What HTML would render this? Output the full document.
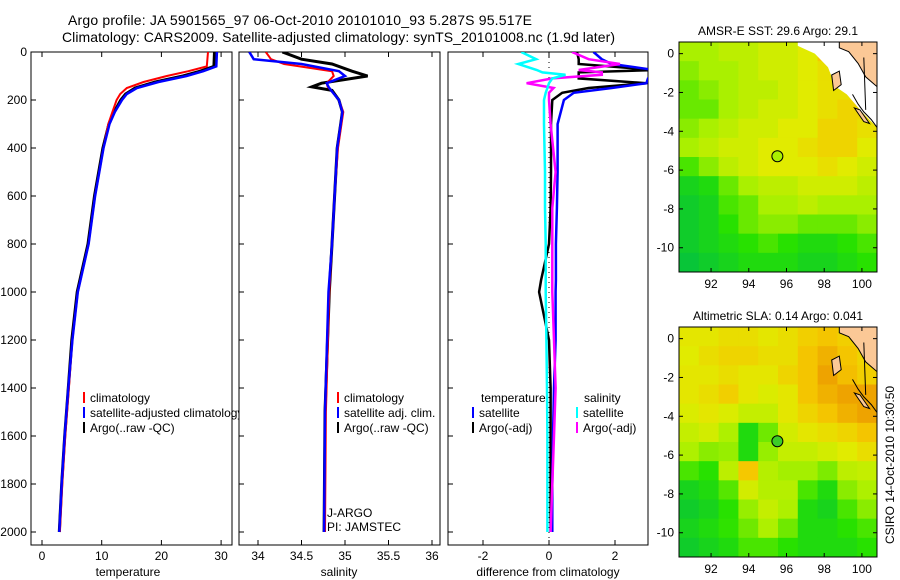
<!DOCTYPE html>
<html><head><meta charset="utf-8"><style>
html,body{margin:0;padding:0;background:#fff;}
svg{display:block;font-family:"Liberation Sans",sans-serif;}
</style></head><body>
<svg id="fig" width="900" height="580" viewBox="0 0 900 580"></svg>
<script>
// ---------- data ----------
const depthT = [0, 60, 80, 100, 125, 150, 175, 200, 250, 300, 400, 600, 800, 1000, 1200, 1400, 1600, 1800, 2000];
const tempClim = [27.8, 27.6, 24.5, 20.9, 17.0, 14.2, 13.1, 12.5, 11.8, 11.1, 10.3, 8.9, 7.8, 6.0, 5.1, 4.5, 3.9, 3.4, 3.0];
const tempAdj  = [29.3, 29.2, 27.0, 24.2, 19.5, 15.9, 14.2, 13.4, 12.2, 11.3, 10.3, 8.9, 7.8, 6.0, 5.1, 4.4, 3.8, 3.3, 2.9];
const tempArgo = [28.9, 28.8, 26.5, 23.6, 19.0, 15.6, 14.0, 13.2, 12.1, 11.2, 10.2, 8.8, 7.7, 5.9, 5.0, 4.4, 3.8, 3.3, 2.9];

const depthS = [0, 30, 50, 80, 100, 130, 145, 160, 200, 250, 300, 400, 600, 800, 1000, 1500, 2000];
const salClim = [34.09, 34.15, 34.30, 34.85, 34.87, 34.79, 34.80, 34.84, 34.93, 34.98, 34.96, 34.92, 34.88, 34.85, 34.82, 34.78, 34.77];
const salAdj  = [33.90, 33.95, 34.50, 34.93, 35.00, 34.79, 34.81, 34.84, 34.93, 34.97, 34.95, 34.91, 34.88, 34.85, 34.81, 34.77, 34.76];
const salArgo = [34.28, 34.50, 34.85, 35.08, 35.26, 34.73, 34.62, 34.85, 34.93, 34.97, 34.95, 34.91, 34.88, 34.85, 34.82, 34.77, 34.76];

const depthD = [0, 30, 50, 75, 85, 95, 110, 130, 150, 170, 200, 300, 500, 650, 800, 950, 1000, 1200, 1400, 1600, 1800, 2000];
const diffTsat  = [1.35, 1.6, 1.9, 3.2, 3.2, 3.2, 3.0, 2.95, 1.9, 0.75, 0.45, 0.26, 0.26, 0.24, 0.21, 0.21, 0.2, 0.2, 0.15, 0.12, 0.1, 0.1];
const diffTargo = [0.85, 0.9, 0.9, 3.2, 0.9, 0.9, 0.9, 2.95, 1.2, 0.4, 0.1, 0.06, 0.06, 0.05, 0.0, -0.24, -0.3, 0.0, 0.05, 0.05, 0.05, 0.05];
const diffSsat  = [-0.84, -0.39, -0.93, -0.37, -0.2, 0.5, 0.1, 0.0, -0.05, -0.1, -0.15, -0.15, -0.12, -0.12, -0.1, -0.1, -0.1, -0.08, -0.06, -0.05, -0.05, -0.05];
const diffSargo = [0.7, 1.2, 2.15, 0.9, 1.6, 1.6, 0.1, -0.68, 0.14, 0.0, 0.0, 0.05, 0.2, 0.1, 0.1, 0.1, 0.1, 0.15, 0.2, 0.15, 0.1, 0.05];

const depthTicks = [0, 200, 400, 600, 800, 1000, 1200, 1400, 1600, 1800, 2000];
const tempTicks = [0, 10, 20, 30];
const salTicks = ["34", "34.5", "35", "35.5", "36"];
const diffTicks = [-2, 0, 2];
const lonTicks = [92, 94, 96, 98, 100];
const latTicks = [0, -2, -4, -6, -8, -10];

// map grids: 12 rows (north->south) x 10 cols (west->east); -1 = no data
const sstGrid = [
 [.45,.45,.5,.5,.55,.55,.6,.75,-1,-1],
 [.4,.45,.45,.5,.55,.55,.6,.65,-1,-1],
 [.35,.4,.45,.5,.5,.55,.6,.65,.65,-1],
 [.35,.35,.45,.5,.55,.55,.6,.65,.7,.7],
 [.4,.45,.5,.55,.55,.6,.6,.7,.7,.65],
 [.45,.5,.55,.55,.6,.6,.65,.7,.7,.6],
 [.3,.4,.5,.55,.6,.6,.6,.65,.6,.55],
 [.15,.2,.35,.45,.5,.5,.55,.55,.55,.5],
 [.1,.15,.3,.35,.45,.45,.5,.45,.45,.45],
 [.1,.15,.25,.35,.4,.4,.35,.35,.35,.4],
 [.1,.15,.2,.25,.3,.25,.2,.2,.25,.3],
 [.05,.1,.15,.2,.2,.2,.15,.15,.2,.25]];
const slaGrid = [
 [.62,.62,.66,.66,.62,.66,.72,.76,.72,.7],
 [.6,.66,.7,.7,.66,.66,.76,.82,.76,.7],
 [.62,.62,.66,.62,.62,.7,.76,.86,.78,.72],
 [.62,.66,.72,.62,.58,.62,.76,.82,.86,.86],
 [.58,.62,.58,.52,.52,.62,.7,.76,.82,.86],
 [.52,.56,.46,.2,.36,.56,.62,.66,.7,.76],
 [.46,.4,.42,.2,.42,.52,.52,.56,.6,.66],
 [.3,.25,.5,.75,.48,.44,.44,.38,.5,.52],
 [.15,.2,.32,.56,.48,.48,.3,.2,.4,.46],
 [.1,.15,.25,.42,.52,.46,.2,.15,.3,.4],
 [.15,.2,.26,.36,.46,.36,.2,.2,.25,.3],
 [.1,.15,.2,.3,.3,.25,.2,.2,.2,.25]];
const argoLon = 95.517, argoLat = -5.287;

// ---------- helpers ----------
const svg = document.getElementById('fig');
const NS = 'http://www.w3.org/2000/svg';
function mk(tag, attrs, parent) {
  const e = document.createElementNS(NS, tag);
  for (const k in attrs) e.setAttribute(k, attrs[k]);
  (parent || svg).appendChild(e);
  return e;
}
function txt(s, x, y, anchor, size, parent) {
  const t = mk('text', {x: x, y: y, 'text-anchor': anchor || 'start', 'font-size': size || 12, fill: '#000'}, parent);
  t.textContent = s;
  return t;
}
const yD = d => 52 + d * 0.24;
const xT = v => 42 + v * 5.97;
const xS = v => 258 + (v - 34) * 87;
const xDf = v => 549 + v * 33;
const PB = 545;

function panel(name, x0, x1) {
  const g = mk('g', {});
  
  
  mk('rect', {x: x0, y: 52, width: x1 - x0, height: PB - 52, fill: '#fff', stroke: '#000', 'stroke-width': 1}, g);
  depthTicks.forEach(d => {
    mk('line', {x1: x0, x2: x0 + 5, y1: yD(d), y2: yD(d), stroke: '#000'}, g);
  });
  return g;
}
function xticks(g, ticks, fx, labels) {
  ticks.forEach((v, i) => {
    const x = fx(+v);
    mk('line', {x1: x, x2: x, y1: 52, y2: 57, stroke: '#000'}, g);
    mk('line', {x1: x, x2: x, y1: PB, y2: PB - 5, stroke: '#000'}, g);
    const t = txt(labels ? labels[i] : String(v), x, 560, 'middle', 12, g);
    
    
  });
}
function profile(g, name, xs, ys, fx, color, w, clipId) {
  const pts = xs.map((v, i) => fx(v).toFixed(1) + ',' + yD(ys[i]).toFixed(1)).join(' ');
  const p = mk('polyline', {points: pts, fill: 'none', stroke: color, 'stroke-width': w, 'stroke-linejoin': 'miter', 'clip-path': 'url(#' + clipId + ')'}, g);
  
  
}
function legend(g, items, x, y0, dy) {
  items.forEach((it, i) => {
    const y = y0 + i * dy;
    mk('line', {x1: x, x2: x, y1: y - 6, y2: y + 5, stroke: it[1], 'stroke-width': 2}, g);
    const t = txt(it[0], x + 6, y + 4, 'start', 12, g);
    
    
  });
}

const defs = mk('defs', {});
[['c1', 31, 232], ['c2', 239, 440], ['c3', 448, 648], ['cm1', 679, 877], ['cm2', 679, 877]].forEach(c => {
  const cp = mk('clipPath', {id: c[0]}, defs);
  if (c[0] === 'cm1') mk('rect', {x: 679, y: 42, width: 198, height: 230}, cp);
  else if (c[0] === 'cm2') mk('rect', {x: 679, y: 327, width: 198, height: 230}, cp);
  else mk('rect', {x: c[1], y: 52, width: c[2] - c[1], height: PB - 52}, cp);
});

// titles
let t1 = txt('Argo profile: JA 5901565_97 06-Oct-2010 20101010_93 5.287S 95.517E', 68, 25, 'start', 14);
t1.setAttribute('textLength', 464);


let t2 = txt('Climatology: CARS2009. Satellite-adjusted climatology: synTS_20101008.nc (1.9d later)', 62, 42, 'start', 14);
t2.setAttribute('textLength', 553);



// panel 1: temperature
const g1 = panel('temperature-panel', 31, 232);
depthTicks.forEach(d => {
  const t = txt(String(d), 27, yD(d) + 4, 'end', 12);
  
  
});
xticks(g1, tempTicks, xT);
profile(g1, 'argo-temperature-line', tempArgo, depthT, xT, '#000', 3, 'c1');
profile(g1, 'climatology-temperature-line', tempClim, depthT, xT, '#f00', 2, 'c1');
profile(g1, 'satellite-temperature-line', tempAdj, depthT, xT, '#00f', 2.5, 'c1');
legend(g1, [['climatology', '#f00'], ['satellite-adjusted climatology', '#00f'], ['Argo(..raw -QC)', '#000']], 84, 398, 15);
let xl = txt('temperature', 128, 576, 'middle', 12);  

// panel 2: salinity
const g2 = panel('salinity-panel', 239, 440);
xticks(g2, salTicks, xS, salTicks);
profile(g2, 'argo-salinity-line', salArgo, depthS, xS, '#000', 3, 'c2');
profile(g2, 'climatology-salinity-line', salClim, depthS, xS, '#f00', 2, 'c2');
profile(g2, 'satellite-salinity-line', salAdj, depthS, xS, '#00f', 2.5, 'c2');
legend(g2, [['climatology', '#f00'], ['satellite adj. clim.', '#00f'], ['Argo(..raw -QC)', '#000']], 338, 398, 15);
let ja = txt('J-ARGO', 327, 517, 'start', 12, g2);  
let pi = txt('PI: JAMSTEC', 327, 531, 'start', 12, g2);  
xl = txt('salinity', 339, 576, 'middle', 12);  

// panel 3: difference
const g3 = panel('difference-panel', 448, 648);
xticks(g3, diffTicks, xDf);
mk('line', {x1: xDf(0), x2: xDf(0), y1: 52, y2: PB, stroke: '#000', 'stroke-dasharray': '1,4'}, g3);
profile(g3, 'temp-argo-diff-line', diffTargo, depthD, xDf, '#000', 2.5, 'c3');
profile(g3, 'temp-satellite-diff-line', diffTsat, depthD, xDf, '#00f', 2.5, 'c3');
profile(g3, 'sal-argo-diff-line', diffSargo, depthD, xDf, '#f0f', 2.5, 'c3');
profile(g3, 'sal-satellite-diff-line', diffSsat, depthD, xDf, '#0ff', 2.5, 'c3');
txt('temperature', 481, 402, 'start', 12, g3);
txt('salinity', 584, 402, 'start', 12, g3);
legend(g3, [['satellite', '#00f'], ['Argo(-adj)', '#000']], 473, 413, 15);
legend(g3, [['satellite', '#0ff'], ['Argo(-adj)', '#f0f']], 577, 413, 15);
xl = txt('difference from climatology', 548, 576, 'middle', 12);  

// maps
function cmap(v) {
  const stops = [[0, [0, 190, 70]], [0.25, [40, 225, 0]], [0.45, [170, 240, 0]], [0.6, [225, 235, 0]], [0.75, [245, 200, 0]], [0.9, [235, 150, 0]], [1, [210, 110, 0]]];
  for (let i = 1; i < stops.length; i++) {
    if (v <= stops[i][0]) {
      const a = stops[i - 1], b = stops[i], f = (v - a[0]) / (b[0] - a[0]);
      return 'rgb(' + a[1].map((c, k) => Math.round(c + (b[1][k] - c) * f)).join(',') + ')';
    }
  }
  return 'rgb(210,110,0)';
}
function drawMap(name, top, title, grid, clipId, circleFill, whiteZone) {
  const g = mk('g', {});
  
  
  const mx = lon => 679 + (lon - 90.3) * (198 / 10.5);
  const my = lat => top + (0.6 - lat) * (230 / 11.85);
  const cw = 198 / grid[0].length, ch = 230 / grid.length;
  grid.forEach((row, r) => row.forEach((v, c) => {
    const cell = mk('rect', {x: 679 + c * cw, y: top + r * ch, width: cw + 0.5, height: ch + 0.5, fill: v < 0 ? '#fff' : cmap(v)}, g);
    
    
  }));
  const P = arr => arr.map(p => mx(p[0]).toFixed(1) + ',' + my(p[1]).toFixed(1)).join(' ');
  if (whiteZone) {
    mk('polygon', {points: P([[96.6, 0.6], [98.8, 0.6], [99.3, 0.1], [99.8, -0.5], [100.2, -1.2], [100.8, -1.7], [100.8, -3.8], [100, -3], [99.2, -2.1], [98.6, -1.7], [98.2, -0.7], [97.5, 0.0], [96.6, 0.4]]), fill: '#fff', 'clip-path': 'url(#' + clipId + ')'}, g);
  }
  const land = mk('polygon', {points: P([[98.8, 0.6], [100.8, 0.6], [100.8, -1.7], [100.2, -1.2], [99.8, -0.5], [99.3, 0.1], [98.8, 0.3]]), fill: '#fbc896', stroke: '#000', 'stroke-width': 1, 'clip-path': 'url(#' + clipId + ')'}, g);
  
  
  mk('polygon', {points: P([[98.4, -1.1], [98.8, -0.9], [98.9, -1.6], [98.5, -1.9]]), fill: '#fbc896', stroke: '#000'}, g);
  mk('polygon', {points: P([[99.6, -2.8], [99.9, -2.9], [100.4, -3.6], [100.1, -3.5]]), fill: '#fbc896', stroke: '#000'}, g);
  mk('polyline', {points: P([[99.5, -2.1], [99.8, -2.6], [100.1, -3.0], [100.5, -3.4], [100.8, -3.8]]), fill: 'none', stroke: '#000'}, g);
  mk('polyline', {points: P([[100.1, -0.2], [100.2, -2.9]]), fill: 'none', stroke: '#000'}, g);
  const circ = mk('circle', {cx: mx(argoLon), cy: my(argoLat), r: 5.5, fill: circleFill, stroke: '#000', 'stroke-width': 1}, g);
  
  
  mk('rect', {x: 679, y: top, width: 198, height: 230, fill: 'none', stroke: '#000'}, g);
  lonTicks.forEach(l => {
    mk('line', {x1: mx(l), x2: mx(l), y1: top, y2: top + 4, stroke: '#000'}, g);
    mk('line', {x1: mx(l), x2: mx(l), y1: top + 230, y2: top + 226, stroke: '#000'}, g);
    const t = txt(String(l), mx(l), top + 246, 'middle', 12, g);
    
    
  });
  latTicks.forEach(l => {
    mk('line', {x1: 679, x2: 683, y1: my(l), y2: my(l), stroke: '#000'}, g);
    mk('line', {x1: 877, x2: 873, y1: my(l), y2: my(l), stroke: '#000'}, g);
    const t = txt(String(l), 674, my(l) + 4, 'end', 12, g);
    
    
  });
  const tt = txt(title, 778, top - 7, 'middle', 12, g);
  
  
}
drawMap('sst-map', 42, 'AMSR-E SST: 29.6 Argo: 29.1', sstGrid, 'cm1', 'rgb(170,240,0)', true);
drawMap('sla-map', 327, 'Altimetric SLA: 0.14 Argo: 0.041', slaGrid, 'cm2', 'rgb(60,205,40)', false);

const cs = txt('CSIRO 14-Oct-2010 10:30:50', 0, 0, 'middle', 12);
cs.setAttribute('transform', 'translate(894,465) rotate(-90)');


</script>
</body></html>
